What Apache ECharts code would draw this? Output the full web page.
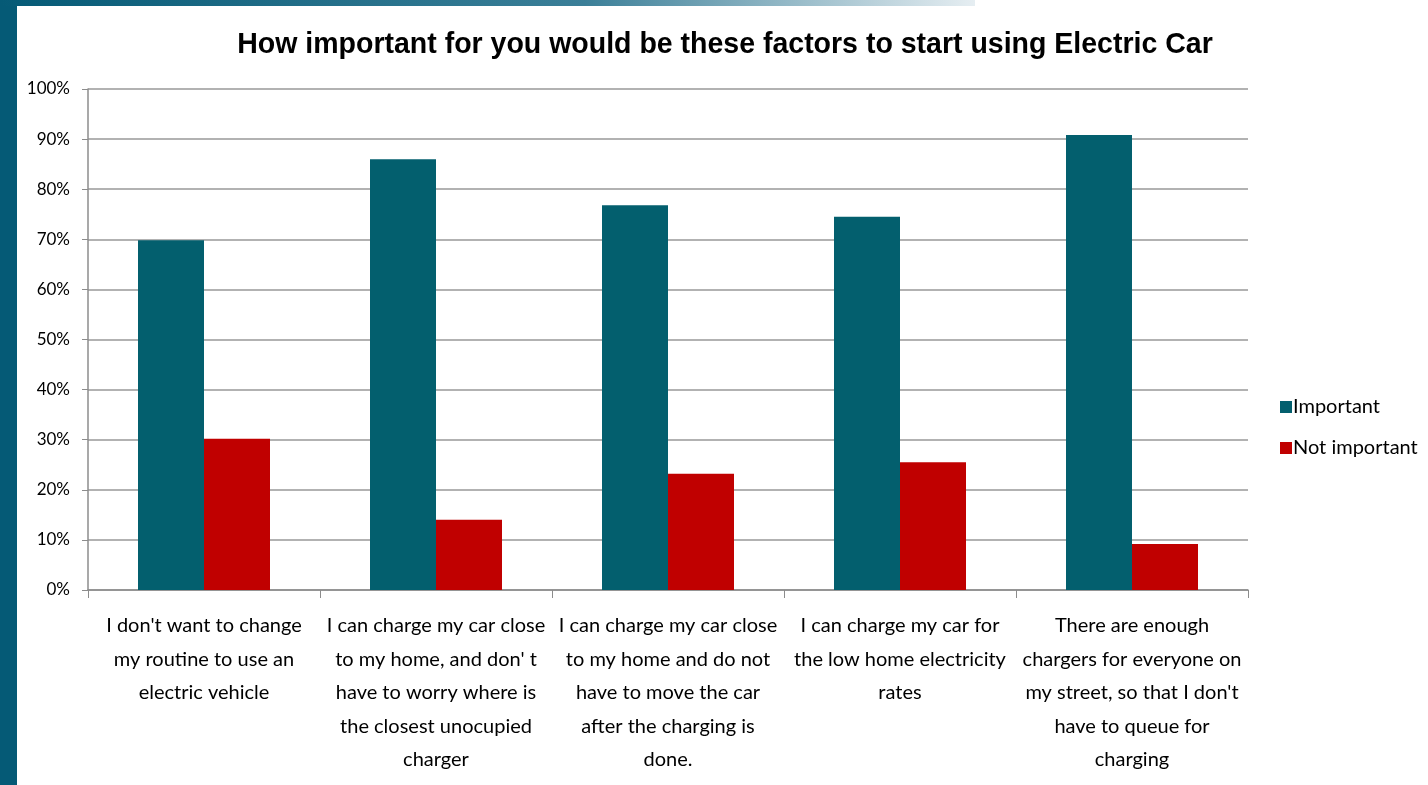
<!DOCTYPE html>
<html><head><meta charset="utf-8">
<script src="https://cdn.jsdelivr.net/npm/echarts@6/dist/echarts.min.js"></script>
<style>html,body{margin:0;padding:0;background:#fff;}#c{width:1428px;height:785px;}</style>
</head><body><div id="c"></div>
<script>
const categories = [
  "I don't want to change\nmy routine to use an\nelectric vehicle",
  "I can charge my car close\nto my home, and don' t\nhave to worry where is\nthe closest unocupied\ncharger",
  "I can charge my car close\nto my home and do not\nhave to move the car\nafter the charging is\ndone.",
  "I can charge my car for\nthe low home electricity\nrates",
  "There are enough\nchargers for everyone on\nmy street, so that I don't\nhave to queue for\ncharging"
];
const important = [69.8, 86.0, 76.8, 74.5, 90.8];
const notImportant = [30.2, 14.0, 23.2, 25.5, 9.2];
const seriesNames = ["Important", "Not important"];
const title = "How important for you would be these factors to start using Electric Car";

const chart = echarts.init(document.getElementById('c'));
chart.setOption({
  animation: false,
  backgroundColor: '#fff',
  graphic: [
    {type:'rect', left:0, top:0, shape:{width:17, height:785}, style:{fill:'#055a76'}},
    {type:'rect', left:0, top:0, shape:{width:975, height:6}, style:{fill:{type:'linear',x:0,y:0,x2:1,y2:0,colorStops:[{offset:0,color:'#055a76'},{offset:0.6,color:'#3b7f98'},{offset:1,color:'#e6eef2'}]}}},
    {type:'text', x:725, y:45, scaleX:0.95, originX:0, originY:0,
      style:{text:title, fill:'#000', textAlign:'center', textVerticalAlign:'middle',
        font:'bold 30px "Liberation Sans", Arial, sans-serif'}}
  ],
  legend: {
    orient: 'vertical', left: 1275, top: 392, itemWidth: 12, itemHeight: 12, itemGap: 21,
    icon: 'rect',
    textStyle: {fontFamily: 'Lato, "Open Sans", sans-serif', fontSize: 20, color: '#000', padding:[0,0,0,-4]},
    data: seriesNames
  },
  grid: {left: 88, right: 180, top: 89, bottom: 195, containLabel: false},
  xAxis: {
    type: 'category', data: categories,
    axisLine: {lineStyle: {color: '#8c8c8c', width: 1.5}},
    axisTick: {show: true, length: 8, alignWithLabel: false, lineStyle:{color:'#8c8c8c'}},
    axisLabel: {interval: 0, margin: 19, lineHeight: 33.5, fontSize: 20, color: '#000', fontFamily: 'Lato, "Open Sans", sans-serif'}
  },
  yAxis: {
    type: 'value', min: 0, max: 100, interval: 10,
    axisLine: {show: true, lineStyle: {color: '#8c8c8c', width: 1.5}},
    axisTick: {show: true, length: 6, lineStyle:{color:'#8c8c8c'}},
    splitLine: {lineStyle: {color: '#999', width: 1.5}},
    axisLabel: {formatter: '{value}%', fontSize: 17, color: '#000', margin: 18, fontFamily: 'Lato, "Open Sans", sans-serif'}
  },
  series: [
    {name: seriesNames[0], type: 'bar', data: important, barWidth: 66, barGap: '0%', itemStyle: {color: '#035f6e'}},
    {name: seriesNames[1], type: 'bar', data: notImportant, barWidth: 66, itemStyle: {color: '#c00000'}}
  ]
});
</script></body></html>
